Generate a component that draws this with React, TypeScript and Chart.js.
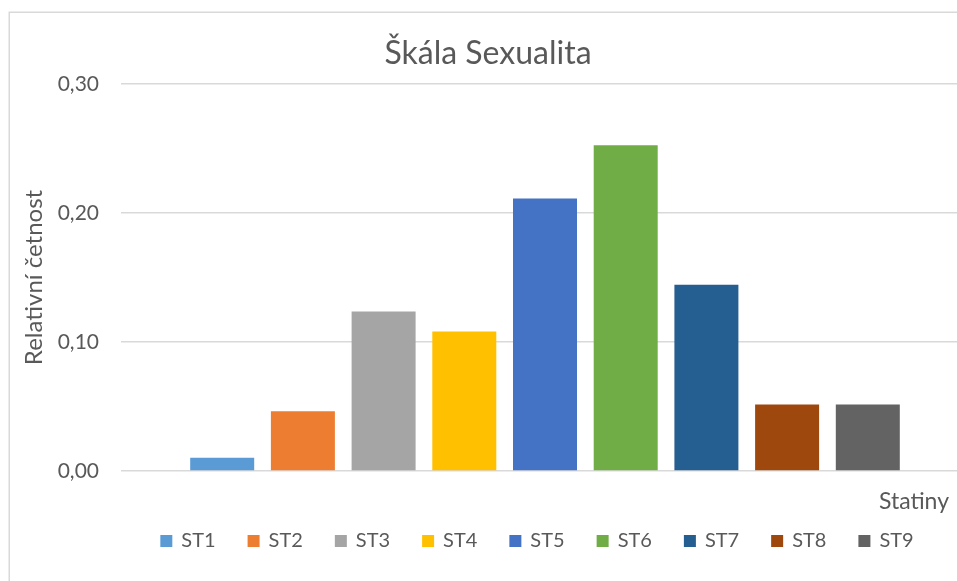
import React, { useEffect, useRef } from 'react';
import { Chart, registerables } from 'chart.js';

Chart.register(...registerables);

const TITLE = 'Škála Sexualita';
const Y_TITLE = 'Relativní četnost';
const X_TITLE = 'Statiny';
const CATEGORY = [''];
const SERIES = ['ST1', 'ST2', 'ST3', 'ST4', 'ST5', 'ST6', 'ST7', 'ST8', 'ST9'];
const VALUES = [0.0103, 0.0464, 0.1237, 0.1082, 0.2113, 0.2526, 0.1443, 0.0515, 0.0515];
const Y_TICKS = [0, 0.1, 0.2, 0.3];
const COLORS = ['#5B9BD5', '#ED7D31', '#A5A5A5', '#FFC000', '#4472C4', '#70AD47', '#255E91', '#9E480E', '#636363'];

const FONT = 'Lato, "Open Sans", sans-serif';
const TEXT = '#595959';
const GRID = '#d9d9d9';

const decor = {
  id: 'decor',
  beforeDraw(chart: any) {
    const ctx = chart.ctx;
    ctx.save();
    ctx.fillStyle = '#ffffff';
    ctx.fillRect(0, 0, chart.width, chart.height);
    ctx.strokeStyle = GRID;
    ctx.lineWidth = 1.5;
    ctx.strokeRect(9.25, 12.25, chart.width + 100, chart.height + 100);
    ctx.restore();
  },
  afterDraw(chart: any) {
    const ctx = chart.ctx;
    ctx.save();
    ctx.fillStyle = TEXT;
    ctx.textBaseline = 'alphabetic';
    ctx.font = `32px ${FONT}`;
    ctx.textAlign = 'center';
    ctx.fillText(TITLE, 488, 64);
    ctx.font = `23px ${FONT}`;
    ctx.textAlign = 'right';
    ctx.fillText(X_TITLE, 949, 509);
    ctx.restore();
  },
};

export default function App() {
  const ref = useRef<HTMLCanvasElement | null>(null);
  useEffect(() => {
    const canvas = ref.current;
    if (!canvas) return;
    const chart = new Chart(canvas, {
      type: 'bar',
      data: {
        labels: CATEGORY,
        datasets: SERIES.map((s, i) => ({
          label: s,
          data: [VALUES[i]],
          backgroundColor: COLORS[i],
          borderWidth: 0,
          categoryPercentage: 0.8565,
          barPercentage: 0.793,
        })),
      },
      options: {
        animation: false,
        responsive: false,
        devicePixelRatio: 1,
        layout: { padding: { left: 0, right: 0, top: 84, bottom: 20 } },
        plugins: {
          title: { display: false },
          tooltip: { enabled: false },
          legend: {
            position: 'bottom',
            align: 'center',
            labels: {
              boxWidth: 10,
              boxHeight: 10,
              padding: 33,
              color: TEXT,
              font: { family: FONT, size: 20 },
              generateLabels: (chart: any) =>
                chart.data.datasets.map((d: any, i: number) => ({
                  text: d.label,
                  fillStyle: d.backgroundColor,
                  strokeStyle: d.backgroundColor,
                  lineWidth: 2,
                  hidden: false,
                  datasetIndex: i,
                  fontColor: TEXT,
                })),
            },
          },
        },
        scales: {
          x: {
            grid: { display: false },
            border: { display: false },
            ticks: { display: false },
            afterFit: (s: any) => { s.height = 27; },
          },
          y: {
            min: 0,
            max: 0.3,
            afterBuildTicks: (s: any) => { s.ticks = Y_TICKS.map((v) => ({ value: v })); },
            afterFit: (s: any) => { s.width = 121; },
            grid: { color: GRID, lineWidth: 1.5, drawTicks: false },
            border: { display: false },
            ticks: {
              padding: 22,
              color: TEXT,
              font: { family: FONT, size: 21 },
              callback: (v: any) => Number(v).toFixed(2).replace('.', ','),
            },
            title: {
              display: true,
              text: Y_TITLE,
              color: TEXT,
              font: { family: FONT, size: 24 },
              padding: { top: 20, bottom: 0 },
            },
          },
          y2: {
            position: 'right',
            display: true,
            grid: { display: false },
            border: { display: false },
            ticks: { display: false },
            afterFit: (s: any) => { s.width = 106; },
          },
        },
      },
      plugins: [decor],
    } as any);
    return () => chart.destroy();
  }, []);
  return (
    <div style={{ position: 'fixed', left: 0, top: 0, width: 957, height: 581, overflow: 'hidden', background: '#fff' }}>
      <canvas ref={ref} width={1075} height={581} style={{ display: 'block' }} />
    </div>
  );
}
